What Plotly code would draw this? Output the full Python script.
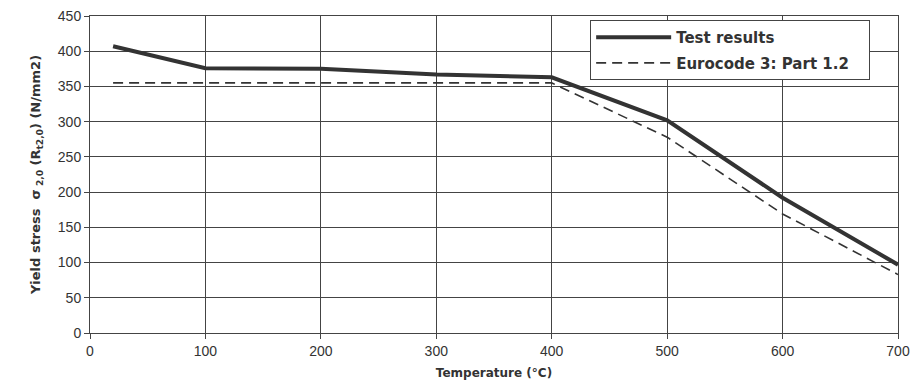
import plotly.graph_objects as go

temp_test = [20, 100, 200, 300, 400, 500, 600, 700]
stress_test = [407, 376, 375, 367, 363, 302, 192, 97]

temp_ec3 = [20, 100, 200, 300, 400, 500, 600, 700]
stress_ec3 = [355, 355, 355, 355, 355, 278, 169, 83]

x_ticks = [0, 100, 200, 300, 400, 500, 600, 700]
y_ticks = [0, 50, 100, 150, 200, 250, 300, 350, 400, 450]

fig = go.Figure()
fig.add_trace(go.Scatter(
    x=temp_test, y=stress_test, mode="lines", name="<b>Test results</b>",
    legendgroup="a",
    line=dict(color="#333333", width=4)))
fig.add_trace(go.Scatter(
    x=temp_ec3, y=stress_ec3, mode="lines", name="<b>Eurocode 3: Part 1.2</b>&nbsp;&nbsp;&nbsp;",
    legendgroup="b",
    line=dict(color="#333333", width=1.6, dash="10px,6px")))

axis_common = dict(
    showgrid=True, gridcolor="#444444", gridwidth=1,
    showline=True, linecolor="#444444", linewidth=1, mirror=True,
    ticks="outside", ticklen=5, tickcolor="#444444",
    zeroline=False, automargin=False,
    tickfont=dict(family="Liberation Sans, Arial", size=14, color="#333333"),
)

fig.update_xaxes(
    range=[0, 700], tickvals=x_ticks,
    title=dict(text="<b>Temperature (°C)</b>", standoff=10,
               font=dict(family="DejaVu Sans", size=12, color="#333333")),
    **axis_common)
fig.update_yaxes(
    range=[0, 450], tickvals=y_ticks,
    title=dict(text="<b>Yield stress  σ<sub> 2,0</sub> (R<sub>t2,0</sub>) (N/mm2)</b>", standoff=14,
               font=dict(family="DejaVu Sans", size=13, color="#333333")),
    **axis_common)

fig.update_layout(
    width=913, height=389,
    margin=dict(l=90, r=15, t=16, b=56),
    paper_bgcolor="white", plot_bgcolor="white",
    showlegend=True,
    legend=dict(
        x=0.619, y=0.987, xanchor="left", yanchor="top",
        bgcolor="white", bordercolor="#444444", borderwidth=1,
        font=dict(family="DejaVu Sans", size=15, color="#333333"),
        itemwidth=75, tracegroupgap=3,
    ),
)

fig.write_html("out.html", post_script="document.body.style.margin='0';",
               config={"displayModeBar": False})
